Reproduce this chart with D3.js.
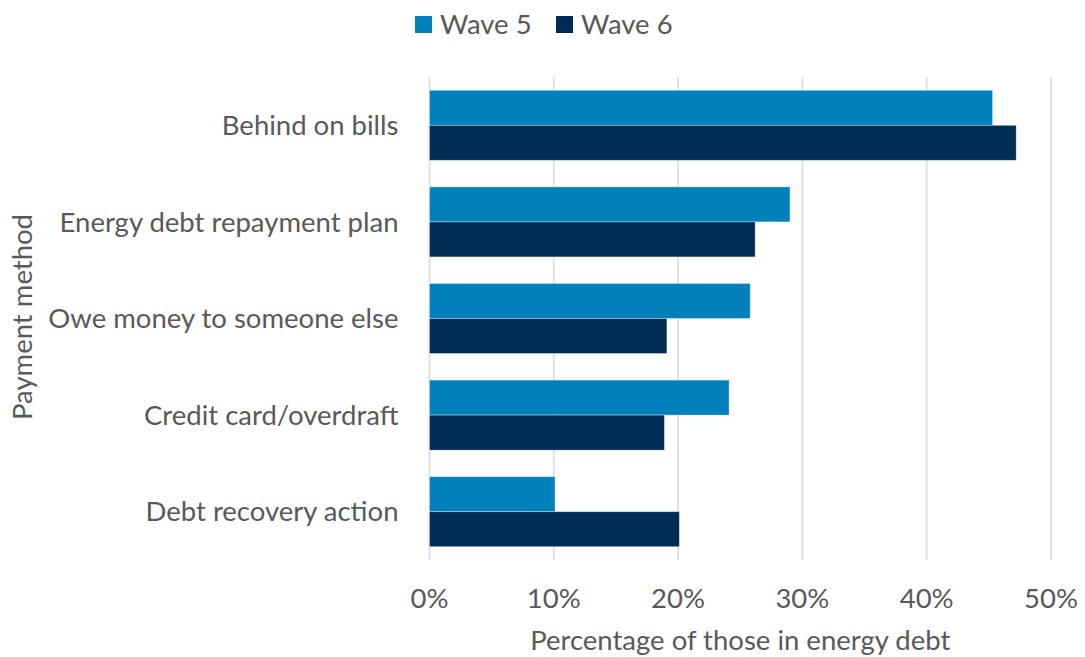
<!DOCTYPE html>
<html>
<head>
<meta charset="utf-8">
<script src="https://cdn.jsdelivr.net/npm/d3@7"></script>
<style>
  html, body { margin: 0; padding: 0; background: #fff; }
  svg { display: block; }
  text { font-family: Lato, "Open Sans", sans-serif; fill: #595959; }
</style>
</head>
<body>
<svg id="chart" width="1085" height="657"></svg>
<script>
// Reasons for being in energy debt, share of respondents (%)
const categories = [
  "Behind on bills",
  "Energy debt repayment plan",
  "Owe money to someone else",
  "Credit card/overdraft",
  "Debt recovery action"
];
const seriesNames = ["Wave 5", "Wave 6"];
const wave5 = [45.3, 29.0, 25.8, 24.1, 10.1];
const wave6 = [47.2, 26.2, 19.1, 18.9, 20.1];
const xTicks = [0, 10, 20, 30, 40, 50];
const colors = ["#0081bb", "#002d55"];

const svg = d3.select("#chart");
const margin = { top: 77, right: 34, bottom: 97, left: 429.5 };
const width = 1085 - margin.left - margin.right;
const height = 657 - margin.top - margin.bottom;
const fontSize = "27.5px";

const x = d3.scaleLinear().domain([0, 50]).range([0, width]);
const y0 = d3.scaleBand().domain(categories).range([0, height]).paddingInner(0.275).paddingOuter(0.1375);
const y1 = d3.scaleBand().domain(seriesNames).range([0, y0.bandwidth()]);

const g = svg.append("g").attr("transform", `translate(${margin.left},${margin.top})`);

// vertical gridlines
g.append("g")
  .selectAll("line")
  .data(xTicks)
  .join("line")
  .attr("x1", d => x(d)).attr("x2", d => x(d))
  .attr("y1", 0).attr("y2", height)
  .attr("stroke", "#e1e1e1")
  .attr("stroke-width", 2);

// bars
const rows = categories.map((c, i) => ({ cat: c, vals: [wave5[i], wave6[i]] }));
g.append("g")
  .selectAll("g")
  .data(rows)
  .join("g")
  .attr("transform", d => `translate(0,${y0(d.cat)})`)
  .selectAll("rect")
  .data(d => d.vals.map((v, j) => ({ name: seriesNames[j], v, j })))
  .join("rect")
  .attr("x", 0)
  .attr("y", d => y1(d.name))
  .attr("width", d => x(d.v))
  .attr("height", y1.bandwidth())
  .attr("fill", d => colors[d.j])
  .attr("stroke", "#ffffff")
  .attr("stroke-opacity", 0.45)
  .attr("stroke-width", 0.8);

// category labels
g.append("g")
  .selectAll("text")
  .data(categories)
  .join("text")
  .attr("x", -31)
  .attr("y", d => y0(d) + y0.bandwidth() / 2)
  .attr("dy", "0.35em")
  .attr("text-anchor", "end")
  .style("font-size", fontSize)
  .text(d => d);

// x tick labels
g.append("g")
  .selectAll("text")
  .data(xTicks)
  .join("text")
  .attr("x", d => x(d))
  .attr("y", height + 38)
  .attr("dy", "0.35em")
  .attr("text-anchor", "middle")
  .style("font-size", fontSize)
  .text(d => d + "%");

// axis titles
svg.append("text")
  .attr("x", margin.left + x(25))
  .attr("y", 640)
  .attr("dy", "0.35em")
  .attr("text-anchor", "middle")
  .style("font-size", fontSize)
  .text("Percentage of those in energy debt");

svg.append("text")
  .attr("transform", "translate(22,317) rotate(-90)")
  .attr("dy", "0.35em")
  .attr("text-anchor", "middle")
  .style("font-size", fontSize)
  .text("Payment method");

// legend
const legendX = [415, 556];
const legend = svg.append("g");
seriesNames.forEach((name, i) => {
  legend.append("rect")
    .attr("x", legendX[i]).attr("y", 16)
    .attr("width", 17).attr("height", 17)
    .attr("fill", colors[i]);
  legend.append("text")
    .attr("x", legendX[i] + 25).attr("y", 24.5)
    .attr("dy", "0.35em")
    .style("font-size", fontSize)
    .text(name);
});
</script>
</body>
</html>
